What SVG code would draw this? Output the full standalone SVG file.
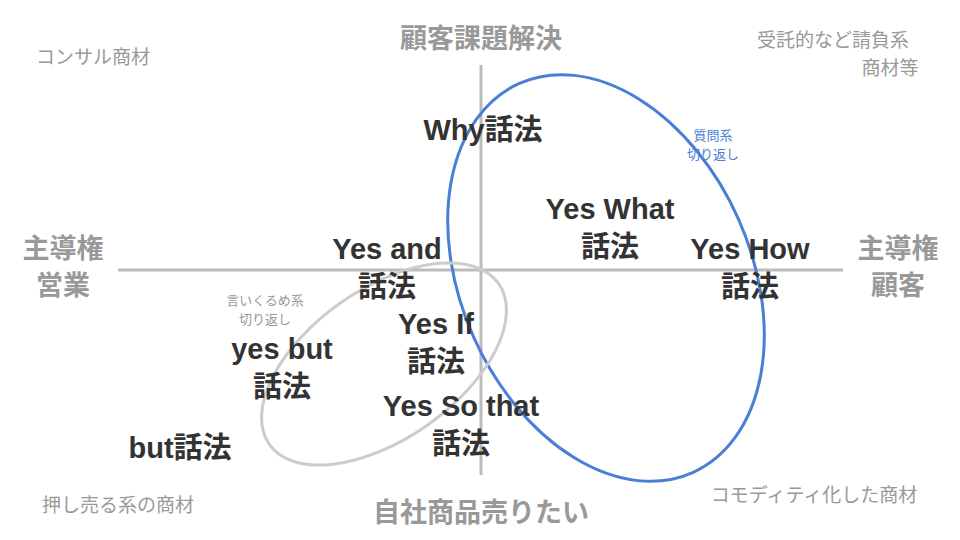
<svg xmlns="http://www.w3.org/2000/svg" width="960" height="540" viewBox="0 0 960 540">
<style>
text{font-family:"Liberation Sans","Noto Sans CJK JP",sans-serif;font-weight:bold;text-anchor:middle}
.ax{fill:#999;font-size:27px}
.cn{fill:#999;font-size:19px;font-weight:normal}
.lb{fill:#333;font-size:29px}
.sm{font-size:13px;font-weight:normal}
</style>
<rect width="960" height="540" fill="#fff"/>
<g id="connectors" stroke="#bbb" stroke-width="3" fill="none">
<line x1="481" y1="65" x2="481" y2="475"/>
<line x1="118" y1="270" x2="843" y2="270"/>
</g>
<g id="ellipses" fill="none">
<ellipse cx="606" cy="278" rx="213" ry="145" transform="rotate(66 606 278)" stroke="#4a7fd6" stroke-width="3"/>
<ellipse cx="384" cy="364" rx="140" ry="75" transform="rotate(-35 384 364)" stroke="#ccc" stroke-width="3"/>
</g>
<g id="axes-labels">
<text class="ax" x="481" y="48">顧客課題解決</text>
<text class="ax" x="481" y="522">自社商品売りたい</text>
<text class="ax" x="63" y="258">主導権</text><text class="ax" x="63" y="295">営業</text>
<text class="ax" x="898" y="258">主導権</text><text class="ax" x="898" y="295">顧客</text>
</g>
<g id="corners">
<text class="cn" x="93" y="64">コンサル商材</text>
<text class="cn" x="833" y="47">受託的など請負系</text><text class="cn" x="890" y="75">商材等</text>
<text class="cn" x="118" y="512">押し売る系の商材</text>
<text class="cn" x="814" y="502">コモディティ化した商材</text>
</g>
<g id="n-why"><text class="lb" x="483" y="140">Why話法</text></g>
<g id="n-what"><text class="lb" x="610" y="219">Yes What</text><text class="lb" x="610" y="257">話法</text></g>
<g id="n-how"><text class="lb" x="750" y="259">Yes How</text><text class="lb" x="750" y="297">話法</text></g>
<g id="n-and"><text class="lb" x="387" y="259">Yes and</text><text class="lb" x="387" y="297">話法</text></g>
<g id="n-if"><text class="lb" x="436" y="334">Yes If</text><text class="lb" x="436" y="372">話法</text></g>
<g id="n-so"><text class="lb" x="461" y="416">Yes So that</text><text class="lb" x="461" y="454">話法</text></g>
<g id="n-yesbut"><text class="lb" x="282" y="359">yes but</text><text class="lb" x="282" y="397">話法</text></g>
<g id="n-but"><text class="lb" x="180" y="458">but話法</text></g>
<g id="n-q"><text class="sm" x="713" y="140" fill="#4a7fd6">質問系</text><text class="sm" x="713" y="159" fill="#4a7fd6">切り返し</text></g>
<g id="n-i"><text class="sm" x="265" y="305" fill="#999">言いくるめ系</text><text class="sm" x="265" y="324" fill="#999">切り返し</text></g>
</svg>
